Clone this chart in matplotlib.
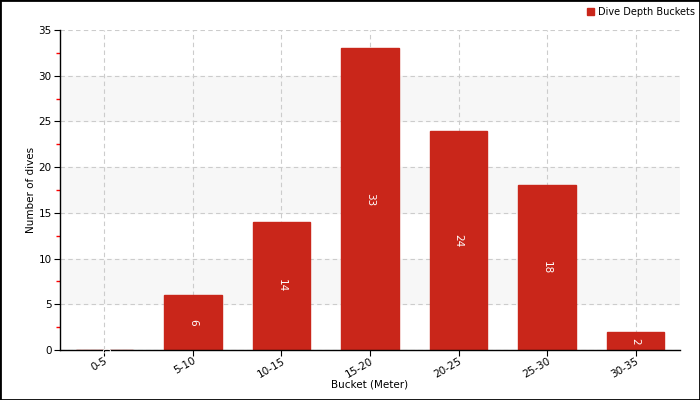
import numpy as np
import matplotlib
matplotlib.use('Agg')
import matplotlib.pyplot as plt
from matplotlib.patches import Rectangle

# Data
buckets = ['0-5', '5-10', '10-15', '15-20', '20-25', '25-30', '30-35']
dives = [0, 6, 14, 33, 24, 18, 2]
series_name = 'Dive Depth Buckets'

bar_color = '#c9261a'

fig = plt.figure(figsize=(7, 4), dpi=100)
ax = fig.add_axes([60/700, 50/400, 620/700, 320/400])

x = np.arange(len(buckets))

# alternating background bands
for lo in range(5, 35, 10):
    ax.axhspan(lo, lo + 5, color='#f7f7f7', zorder=0)

ax.grid(True, linestyle=(0, (4, 3)), color='#cccccc', linewidth=0.8)
ax.set_axisbelow(True)

bars = ax.bar(x, dives, width=0.65, color=bar_color, edgecolor=bar_color,
              linewidth=1, label=series_name, zorder=2)

for xi, v in zip(x, dives):
    ax.text(xi, v / 2, str(v), rotation=-90, color='white', fontsize=7.5,
            ha='center', va='center', zorder=3)

ax.set_xlim(-0.5, len(buckets) - 0.5)
ax.set_ylim(0, 35)
ax.set_yticks(np.arange(0, 36, 5))
ax.set_yticks(np.arange(2.5, 35, 5), minor=True)
ax.tick_params(axis='y', which='minor', length=3, color='red', width=1)
ax.tick_params(axis='both', which='major', labelsize=7.5, length=4, pad=2)
ax.tick_params(axis='x', which='major', pad=0)
ax.set_xticks(x)
ax.set_xticklabels(buckets, rotation=30, ha='right', rotation_mode='anchor')

for side in ['top', 'right']:
    ax.spines[side].set_visible(False)
ax.spines['left'].set_linewidth(1)
ax.spines['bottom'].set_linewidth(1)

ax.set_xlabel('Bucket (Meter)', fontsize=7.5, labelpad=0)
ax.set_ylabel('Number of dives', fontsize=7.5)
ax.yaxis.set_label_coords(-24/620, 0.5)

leg = ax.legend(loc='upper right', bbox_to_anchor=(1.0 + 19/620, 1.0 + 27/320),
                fontsize=7, frameon=False, handlelength=0.7, handleheight=0.7,
                handletextpad=0.4, borderaxespad=0)

fig.patches.append(Rectangle((0, 0), 1, 1, transform=fig.transFigure,
                             fill=False, edgecolor='black', linewidth=2))

fig.savefig('out.png', dpi=100)
